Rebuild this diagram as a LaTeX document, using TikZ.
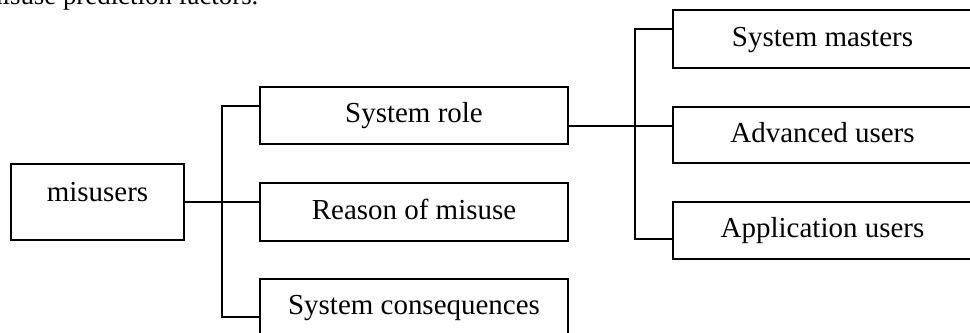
\documentclass[tikz,border=0pt]{standalone}
\usepackage{fontspec}
\setmainfont{Liberation Serif}
\begin{document}
\begin{tikzpicture}[x=0.025cm,y=-0.025cm,
  line width=1pt,box node/.style={rectangle,draw,font=\fontsize{20.6}{24}\selectfont,
    text height=14pt,text depth=4pt,inner sep=0pt}]

  \useasboundingbox (0,0) rectangle (970,333);

  % caption line above the chart, cut at the top edge
  \node[anchor=base west,inner sep=0pt,font=\fontsize{19.1}{23}\selectfont] (cap) at (-19,4.5) {misuse prediction factors.};

  \node[box node,minimum width=173*0.025cm,minimum height=76*0.025cm,text depth=14pt] (mis) at (97.5,202) {misusers};
  \node[box node,minimum width=308*0.025cm,minimum height=57*0.025cm] (role) at (414,115.5) {System role};
  \node[box node,minimum width=308*0.025cm,minimum height=58*0.025cm] (reason) at (414,212) {Reason of misuse};
  \node[box node,minimum width=308*0.025cm,minimum height=57*0.025cm] (cons) at (414,307.5) {System consequences};
  \node[box node,minimum width=299*0.025cm,minimum height=58*0.025cm] (masters) at (822.5,39) {System masters};
  \node[box node,minimum width=299*0.025cm,minimum height=56*0.025cm] (adv) at (822.5,135) {Advanced users};
  \node[box node,minimum width=299*0.025cm,minimum height=57*0.025cm] (app) at (822.5,230.5) {Application users};

  \coordinate (j1) at (222,106);
  \coordinate (j2) at (222,317);
  \coordinate (k0) at (635,126);
  \coordinate (k1) at (635,29);
  \coordinate (k2) at (635,239);

  \draw (mis.east) -- (reason.west |- mis.east);
  \draw (role.west |- j1) -- (j1) -- (j2) -- (cons.west |- j2);
  \draw (role.east |- k0) -- (adv.west |- k0);
  \draw (masters.west |- k1) -- (k1) -- (k2) -- (app.west |- k2);
\end{tikzpicture}
\end{document}
